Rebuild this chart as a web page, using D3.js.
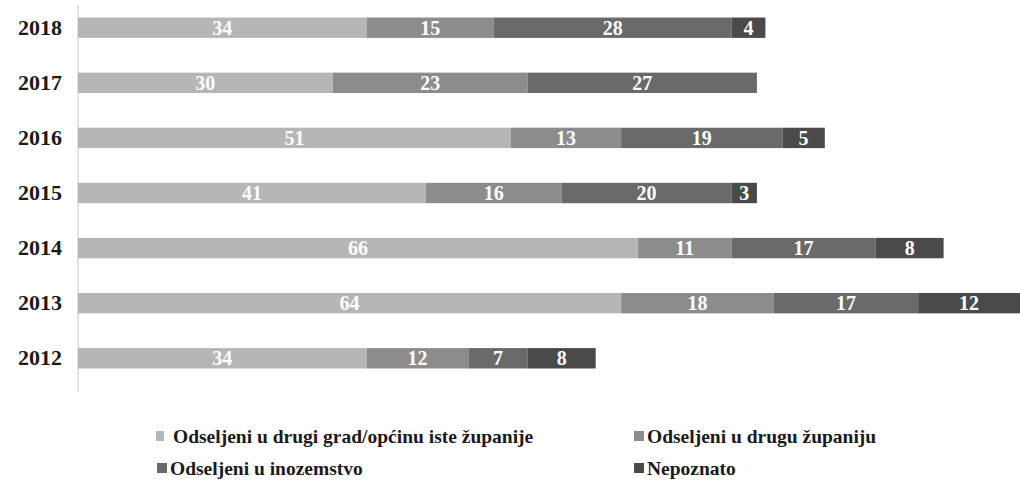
<!DOCTYPE html>
<html>
<head>
<meta charset="utf-8">
<script src="https://cdn.jsdelivr.net/npm/d3@7"></script>
<style>
body { margin:0; background:#fff; }
svg text { font-family: "Liberation Serif", "DejaVu Serif", serif; font-weight: bold; }
</style>
</head>
<body>
<svg id="chart"></svg>
<script>
// data
const years = ['2018', '2017', '2016', '2015', '2014', '2013', '2012'];
const seriesNames = [
    'Odseljeni u drugi grad/općinu iste županije',
    'Odseljeni u drugu županiju',
    'Odseljeni u inozemstvo',
    'Nepoznato'
];
const drugiGrad = [34, 30, 51, 41, 66, 64, 34];
const drugaZupanija = [15, 23, 13, 16, 11, 18, 12];
const inozemstvo = [28, 27, 19, 20, 17, 17, 7];
const nepoznato = [4, 0, 5, 3, 8, 12, 8];
const colors = ['#b6b6b6', '#8c8c8c', '#6a6a6a', '#4a4a4a'];

const width = 1020, height = 483;
const margin = { top: 8, left: 78 };

const svg = d3.select('#chart')
    .attr('width', width)
    .attr('height', height);

const rows = years.map((y, i) => ({
    year: y,
    s0: drugiGrad[i], s1: drugaZupanija[i], s2: inozemstvo[i], s3: nepoznato[i]
}));
const stack = d3.stack().keys(['s0', 's1', 's2', 's3'])(rows);

//set up scaling
const xscale = d3.scaleLinear().domain([0, 111]).range([margin.left, 1020]);
const yscale = d3.scaleBand().domain(years).range([1, 385]).paddingInner(0.63).paddingOuter(0.3);

// axis line
svg.append('line')
    .attr('x1', margin.left).attr('x2', margin.left)
    .attr('y1', 5).attr('y2', 392)
    .attr('stroke', '#d8d8d8').attr('stroke-width', 1.5);

// year labels
const yAxis = d3.axisLeft(yscale).tickSize(0).tickPadding(16);
const yg = svg.append('g').attr('transform', `translate(${margin.left},0)`).call(yAxis);
yg.select('.domain').remove();
yg.selectAll('text')
    .style('font-family', '"Liberation Serif", serif')
    .style('font-weight', 'bold')
    .style('font-size', '22px')
    .attr('fill', '#1a1a1a');

//bars
stack.forEach((layer, k) => {
    const g = svg.append('g');
    g.selectAll('rect')
        .data(layer.filter(d => d[1] > d[0]))
        .enter()
        .append('rect')
        .attr('x', d => xscale(d[0]))
        .attr('y', d => yscale(d.data.year))
        .attr('width', d => xscale(d[1]) - xscale(d[0]))
        .attr('height', yscale.bandwidth())
        .attr('fill', colors[k]);
    g.selectAll('text')
        .data(layer.filter(d => d[1] > d[0]))
        .enter()
        .append('text')
        .attr('x', d => (xscale(d[0]) + xscale(d[1])) / 2)
        .attr('y', d => yscale(d.data.year) + yscale.bandwidth() / 2)
        .attr('dy', '0.35em')
        .attr('text-anchor', 'middle')
        .attr('fill', '#fff')
        .style('font-size', '20px')
        .text(d => d[1] - d[0]);
});

// legend
const legendPos = [[156, 436], [634, 436], [157, 468], [634, 468]];
seriesNames.forEach((name, i) => {
    const lg = svg.append('g').attr('transform', `translate(${legendPos[i][0]},${legendPos[i][1]})`);
    lg.append('rect').attr('x', 0).attr('y', -5).attr('width', i === 0 ? 8 : 10).attr('height', 10).attr('fill', colors[i]);
    lg.append('text')
        .attr('x', i === 0 ? 17 : 13)
        .attr('y', 0)
        .attr('dy', '0.35em')
        .attr('fill', '#1a1a1a')
        .style('font-size', '19.5px')
        .text(name);
});
</script>
</body>
</html>
